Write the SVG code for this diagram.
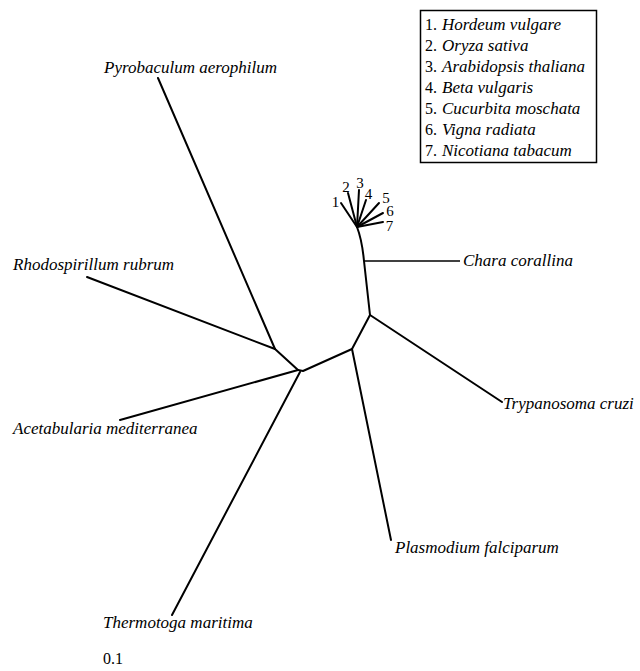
<svg xmlns="http://www.w3.org/2000/svg" width="640" height="671" viewBox="0 0 640 671">
<style>
.lbl{font-family:"Liberation Serif","Times New Roman",serif;font-style:italic;font-size:17px;fill:#000}
.num{font-family:"Liberation Serif","Times New Roman",serif;font-size:16px;fill:#000}
.cn{font-family:"Liberation Serif","Times New Roman",serif;font-size:15px;fill:#000}
.br{stroke:#000;stroke-width:2;fill:none;stroke-linecap:round;stroke-linejoin:round}
.thin{stroke:#000;stroke-width:1.6;fill:none}
</style>
<rect width="640" height="671" fill="#fff"/>
<g id="legend">
<rect x="420.5" y="10.5" width="176" height="152" fill="#fff" stroke="#000" stroke-width="1.5"/>
<text class="num" x="425" y="30">1.</text><text class="lbl" x="442" y="30">Hordeum vulgare</text>
<text class="num" x="425" y="51">2.</text><text class="lbl" x="442" y="51">Oryza sativa</text>
<text class="num" x="425" y="72">3.</text><text class="lbl" x="442" y="72">Arabidopsis thaliana</text>
<text class="num" x="425" y="93">4.</text><text class="lbl" x="442" y="93">Beta vulgaris</text>
<text class="num" x="425" y="114">5.</text><text class="lbl" x="442" y="114">Cucurbita moschata</text>
<text class="num" x="425" y="135">6.</text><text class="lbl" x="442" y="135">Vigna radiata</text>
<text class="num" x="425" y="156">7.</text><text class="lbl" x="442" y="156">Nicotiana tabacum</text>
</g>
<g id="connectors">
<line class="br" x1="158" y1="78" x2="275" y2="349"/>
<line class="br" x1="87" y1="277" x2="275" y2="349"/>
<line class="br" x1="275" y1="349" x2="298" y2="370"/>
<line class="br" x1="120" y1="420" x2="298" y2="370"/>
<line class="br" x1="172" y1="615" x2="300" y2="372"/>
<polyline class="br" points="298,370 303,371 352,349"/>
<line class="br" x1="352" y1="349" x2="391" y2="540"/>
<line class="br" x1="352" y1="349" x2="370" y2="315"/>
<line class="br" x1="370" y1="315" x2="502" y2="402"/>
<path class="br" d="M370,315 L364,261 Q362,240 357,227"/>
<line class="thin" x1="364" y1="261" x2="460" y2="261"/>
<g id="cluster">
<line class="br" x1="357" y1="227" x2="341" y2="203"/>
<line class="br" x1="357" y1="227" x2="348" y2="193"/>
<line class="br" x1="357" y1="227" x2="359" y2="190"/>
<line class="br" x1="357" y1="227" x2="366" y2="200"/>
<line class="br" x1="357" y1="227" x2="379" y2="203"/>
<line class="br" x1="357" y1="227" x2="383" y2="213"/>
<line class="br" x1="357" y1="227" x2="383" y2="222"/>
</g>
</g>
<g id="n-pyrobaculum"><text class="lbl" x="104" y="73">Pyrobaculum aerophilum</text></g>
<g id="n-rhodospirillum"><text class="lbl" x="13" y="270">Rhodospirillum rubrum</text></g>
<g id="n-acetabularia"><text class="lbl" x="13" y="434">Acetabularia mediterranea</text></g>
<g id="n-thermotoga"><text class="lbl" x="103" y="628">Thermotoga maritima</text></g>
<g id="n-plasmodium"><text class="lbl" x="395" y="553">Plasmodium falciparum</text></g>
<g id="n-trypanosoma"><text class="lbl" x="503" y="409">Trypanosoma cruzi</text></g>
<g id="n-chara"><text class="lbl" x="463" y="266">Chara corallina</text></g>
<g id="n-plants">
<text class="cn" x="335.5" y="207" text-anchor="middle">1</text>
<text class="cn" x="346" y="192" text-anchor="middle">2</text>
<text class="cn" x="360" y="188" text-anchor="middle">3</text>
<text class="cn" x="368.5" y="199" text-anchor="middle">4</text>
<text class="cn" x="386" y="203" text-anchor="middle">5</text>
<text class="cn" x="390" y="216" text-anchor="middle">6</text>
<text class="cn" x="389.5" y="231" text-anchor="middle">7</text>
</g>
<g id="scale"><text class="num" x="103" y="664">0.1</text></g>
</svg>
